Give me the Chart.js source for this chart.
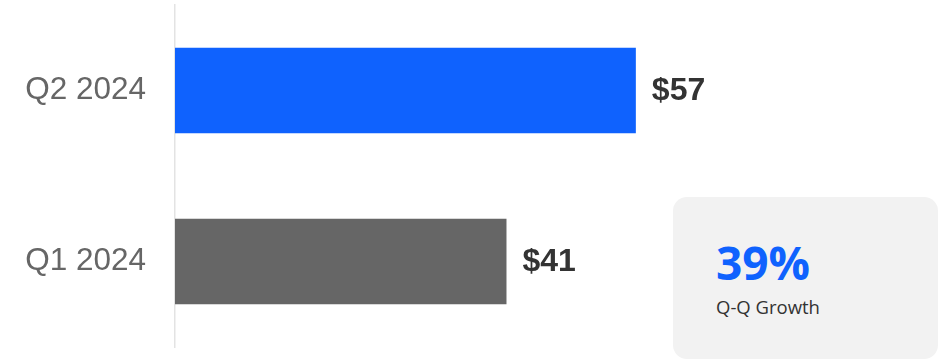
<!DOCTYPE html>
<html>
<head>
<meta charset="utf-8">
<script src="https://cdn.jsdelivr.net/npm/chart.js@4"></script>
<style>
  html, body { margin: 0; padding: 0; background: #fff; }
  #wrap { position: relative; width: 941px; height: 361px; }
  #growth {
    position: absolute; left: 673px; top: 197px; width: 265px; height: 162px;
    background: #f2f2f2; border-radius: 14px; font-family: "Open Sans", sans-serif;
  }
  #growth .big { position: absolute; left: 43px; top: 35px; font-size: 46px; font-weight: 700; color: #0f62fe; line-height: 60px; }
  #growth .small { position: absolute; left: 43px; top: 98px; font-size: 18.5px; color: #333; line-height: 24px; }
</style>
</head>
<body>
<div id="wrap">
  <canvas id="chart" width="941" height="361"></canvas>
  <div id="growth">
    <div class="big" id="growthValue"></div>
    <div class="small" id="growthLabel"></div>
  </div>
</div>
<script>
const quarters = ["Q2 2024", "Q1 2024"];
const revenue = [57, 41];
const barColors = ["#0f62fe", "#666666"];
const growthPct = 39;
const growthText = "Q-Q Growth";

document.getElementById("growthValue").textContent = growthPct + "%";
document.getElementById("growthLabel").textContent = growthText;

// valores em dólar ao lado de cada barra
const valueLabels = {
  id: "valueLabels",
  afterDatasetsDraw(chart) {
    const ctx = chart.ctx;
    const meta = chart.getDatasetMeta(0);
    ctx.save();
    ctx.font = "bold 32px 'Liberation Sans', Arial, sans-serif";
    ctx.fillStyle = "#333333";
    ctx.textAlign = "left";
    ctx.textBaseline = "middle";
    meta.data.forEach((bar, i) => {
      ctx.fillText("$" + revenue[i], bar.x + 16, bar.y + 1);
    });
    ctx.restore();
  }
};

new Chart(document.getElementById("chart"), {
  type: "bar",
  data: {
    labels: quarters,
    datasets: [{
      data: revenue,
      backgroundColor: barColors,
      borderWidth: 0,
      barPercentage: 0.5,
      categoryPercentage: 1
    }]
  },
  options: {
    indexAxis: "y",
    responsive: false,
    animation: false,
    layout: { padding: { top: 5, bottom: 14, left: 0, right: 6 } },
    plugins: { legend: { display: false }, tooltip: { enabled: false } },
    scales: {
      x: { display: false, min: 0, max: 94 },
      y: {
        // largura fixa do eixo e sem folga extra em cima/embaixo
        afterFit: scale => {
          scale.width = 175;
          scale.paddingTop = 0;
          scale.paddingBottom = 0;
        },
        grid: { display: false, drawTicks: false },
        border: { display: true, color: "#e3e3e3", width: 1.5 },
        ticks: {
          padding: 29,
          color: "#666666",
          font: { family: "'Liberation Sans', Arial, sans-serif", size: 31.5 }
        }
      }
    }
  },
  plugins: [valueLabels]
});
</script>
</body>
</html>
